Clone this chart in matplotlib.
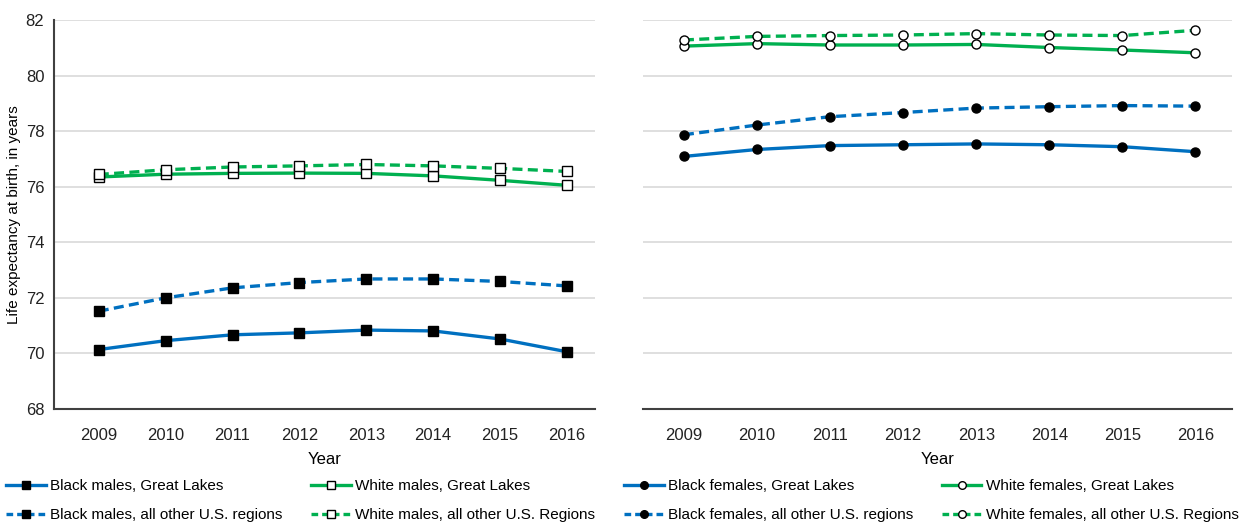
import matplotlib
matplotlib.use("Agg")
import matplotlib.pyplot as plt
from matplotlib.lines import Line2D

plt.rcParams['font.family'] = ['Liberation Sans', 'DejaVu Sans']

years = ['2009', '2010', '2011', '2012', '2013', '2014', '2015', '2016']

# males
black_males_gl = [70.14, 70.46, 70.67, 70.74, 70.84, 70.81, 70.52, 70.06]
black_males_other = [71.52, 72.00, 72.36, 72.55, 72.68, 72.68, 72.59, 72.43]
white_males_gl = [76.35, 76.45, 76.48, 76.49, 76.48, 76.39, 76.23, 76.05]
white_males_other = [76.44, 76.61, 76.71, 76.75, 76.80, 76.75, 76.66, 76.55]

# females
black_females_gl = [77.09, 77.34, 77.48, 77.51, 77.54, 77.51, 77.44, 77.26]
black_females_other = [77.87, 78.22, 78.52, 78.67, 78.83, 78.88, 78.92, 78.90]
white_females_gl = [81.06, 81.15, 81.10, 81.10, 81.12, 81.01, 80.92, 80.82]
white_females_other = [81.28, 81.41, 81.44, 81.46, 81.51, 81.46, 81.44, 81.63]

BLUE = '#0070C0'
GREEN = '#00B050'

fig = plt.figure(figsize=(12.45, 5.22), dpi=100)
ax1 = fig.add_axes([54 / 1245, 1 - 409 / 522, 541 / 1245, 389 / 522])
ax2 = fig.add_axes([643 / 1245, 1 - 409 / 522, 589 / 1245, 389 / 522])

x = list(range(len(years)))


def draw(ax, y, color, ls, marker, fill, label):
    ax.plot(x, y, color=color, lw=2.4, ls=ls, dashes=(3, 1.6) if ls == '--' else (None, None),
            marker=marker, markersize=7 if marker == 's' else 6.5,
            markerfacecolor=fill, markeredgecolor='black', markeredgewidth=1,
            label=label, zorder=3)


handles = []
for ax, series in [
    (ax1, [(black_males_gl, BLUE, '-', 's', 'black', 'Black males, Great Lakes'),
           (black_males_other, BLUE, '--', 's', 'black', 'Black males, all other U.S. regions'),
           (white_males_gl, GREEN, '-', 's', 'white', 'White males, Great Lakes'),
           (white_males_other, GREEN, '--', 's', 'white', 'White males, all other U.S. Regions')]),
    (ax2, [(black_females_gl, BLUE, '-', 'o', 'black', 'Black females, Great Lakes'),
           (black_females_other, BLUE, '--', 'o', 'black', 'Black females, all other U.S. regions'),
           (white_females_gl, GREEN, '-', 'o', 'white', 'White females, Great Lakes'),
           (white_females_other, GREEN, '--', 'o', 'white', 'White females, all other U.S. Regions')]),
]:
    for y, c, ls, m, f, lab in series:
        draw(ax, y, c, ls, m, f, lab)
        handles.append(Line2D([], [], color=c, lw=2.4, ls=ls,
                              dashes=(2, 1.2) if ls == '--' else (None, None),
                              marker=m, markersize=5.5, markerfacecolor=f,
                              markeredgecolor='black', label=lab))

for ax in (ax1, ax2):
    ax.set_ylim(68, 82)
    ax.set_yticks(range(68, 83, 2))
    ax.grid(axis='y', color='#D9D9D9', lw=1.2)
    ax.set_axisbelow(True)
    ax.set_xticks(x)
    ax.set_xticklabels(years)
    ax.tick_params(axis='x', length=0, pad=14, labelsize=12, colors='#222222')
    ax.tick_params(axis='y', length=0, pad=7, labelsize=12, colors='#222222')
    for s in ('top', 'right'):
        ax.spines[s].set_visible(False)
    ax.spines['bottom'].set_color('#404040')
    ax.spines['bottom'].set_linewidth(1.5)
    ax.set_xlabel('Year', fontsize=12, labelpad=6)

ax1.set_xlim(-0.67, 7.42)
ax2.set_xlim(-0.56, 7.5)
ax1.spines['left'].set_color('#404040')
ax1.spines['left'].set_linewidth(1.5)
ax1.set_ylabel('Life expectancy at birth, in years', fontsize=11, labelpad=3)
ax2.spines['left'].set_visible(False)
ax2.tick_params(axis='y', labelleft=False)

fig.legend(handles=handles, loc='lower left', bbox_to_anchor=(0.0, -0.012, 1.0, 0.1),
           mode='expand', ncol=4, frameon=False, fontsize=11,
           handlelength=2.6, handletextpad=0.3, borderaxespad=0.0,
           labelspacing=1.0)

fig.savefig('out.png', dpi=100)
